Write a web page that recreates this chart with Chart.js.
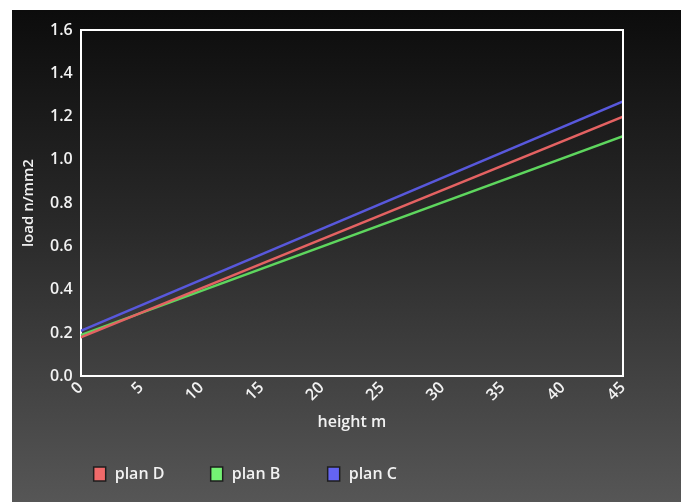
<!DOCTYPE html>
<html>
<head>
<meta charset="utf-8">
<script src="https://cdn.jsdelivr.net/npm/chart.js@4"></script>
<style>
  html, body { margin: 0; padding: 0; background: #fff; }
  #box {
    position: absolute; left: 12px; top: 10px; width: 669px; height: 492px;
    background: linear-gradient(to bottom, #0c0c0c 0%, #2a2a2a 45%, #565656 100%);
  }
</style>
</head>
<body>
<div id="box"><canvas id="chart" width="669" height="492"></canvas></div>
<script>
'use strict';

// データ
const heights = [0, 45];
const planD = [0.18, 1.20];
const planB = [0.19, 1.11];
const planC = [0.21, 1.27];
const yTicks = [0, 0.2, 0.4, 0.6, 0.8, 1.0, 1.2, 1.4, 1.6];

function pts(vals) {
    return heights.map((h, i) => ({ x: h, y: vals[i] }));
}

const FONT = '"Open Sans", "Noto Sans", sans-serif';
Chart.defaults.font.family = FONT;
Chart.defaults.color = '#ffffff';

// 凡例（下、左寄せ）
const legendPlugin = {
    id: 'bottomLegend',
    afterDraw(c) {
        const ctx = c.ctx;
        let x = c.chartArea.left + 13;
        const yMid = 464;
        ctx.save();
        ctx.font = '600 16px ' + FONT;
        ctx.textBaseline = 'middle';
        c.data.datasets.forEach((d) => {
            ctx.fillStyle = d.backgroundColor;
            ctx.fillRect(x, yMid - 7, 12, 14);
            ctx.strokeStyle = '#1e1e1e';
            ctx.lineWidth = 1.5;
            ctx.strokeRect(x, yMid - 7, 12, 14);
            ctx.fillStyle = '#f2f2f2';
            ctx.fillText(d.label, x + 21, yMid);
            x += 117;
        });
        ctx.restore();
    }
};

// プロット枠（上・右）
const framePlugin = {
    id: 'frame',
    afterDraw(c) {
        const a = c.chartArea, ctx = c.ctx;
        ctx.save();
        ctx.strokeStyle = '#ffffff';
        ctx.lineWidth = 2;
        ctx.beginPath();
        ctx.moveTo(a.left, a.top);
        ctx.lineTo(a.right, a.top);
        ctx.lineTo(a.right, a.bottom);
        ctx.stroke();
        ctx.restore();
    }
};

const chart = new Chart(document.getElementById('chart'), {
    type: 'line',
    data: {
        datasets: [
            { label: 'plan D', data: pts(planD), borderColor: '#e46262', backgroundColor: '#f06a6a' },
            { label: 'plan B', data: pts(planB), borderColor: '#5ed65e', backgroundColor: '#74f274' },
            { label: 'plan C', data: pts(planC), borderColor: '#5858dc', backgroundColor: '#6464f2' },
        ]
    },
    options: {
        responsive: false,
        animation: false,
        layout: { padding: { left: 8, right: 58, top: 20, bottom: 70 } },
        elements: {
            line: { borderWidth: 2.5, tension: 0 },
            point: { radius: 0 }
        },
        plugins: {
            legend: { display: false },
            tooltip: { enabled: false }
        },
        scales: {
            x: {
                type: 'linear',
                min: 0,
                max: 45,
                ticks: {
                    stepSize: 5,
                    autoSkip: false,
                    minRotation: 45,
                    maxRotation: 45,
                    padding: 2,
                    font: { size: 16, weight: '600' },
                    color: '#f2f2f2'
                },
                grid: { display: false, drawTicks: false },
                border: { color: '#ffffff', width: 2 },
                title: { display: true, text: 'height m', font: { size: 16, weight: '600' }, color: '#f2f2f2', padding: { top: 6, bottom: 0 } }
            },
            y: {
                min: 0,
                max: 1.6,
                afterBuildTicks: (ax) => { ax.ticks = yTicks.map(v => ({ value: v })); },
                ticks: {
                    font: { size: 16, weight: '600' },
                    color: '#f2f2f2',
                    padding: 8,
                    callback: (v) => Number(v).toFixed(1)
                },
                grid: { display: false, drawTicks: false },
                border: { color: '#ffffff', width: 2 },
                title: { display: true, text: 'load n/mm2', font: { size: 15, weight: '600' }, color: '#f2f2f2', padding: { top: 0, bottom: 4 } }
            }
        }
    },
    plugins: [framePlugin, legendPlugin]
});
</script>
</body>
</html>
